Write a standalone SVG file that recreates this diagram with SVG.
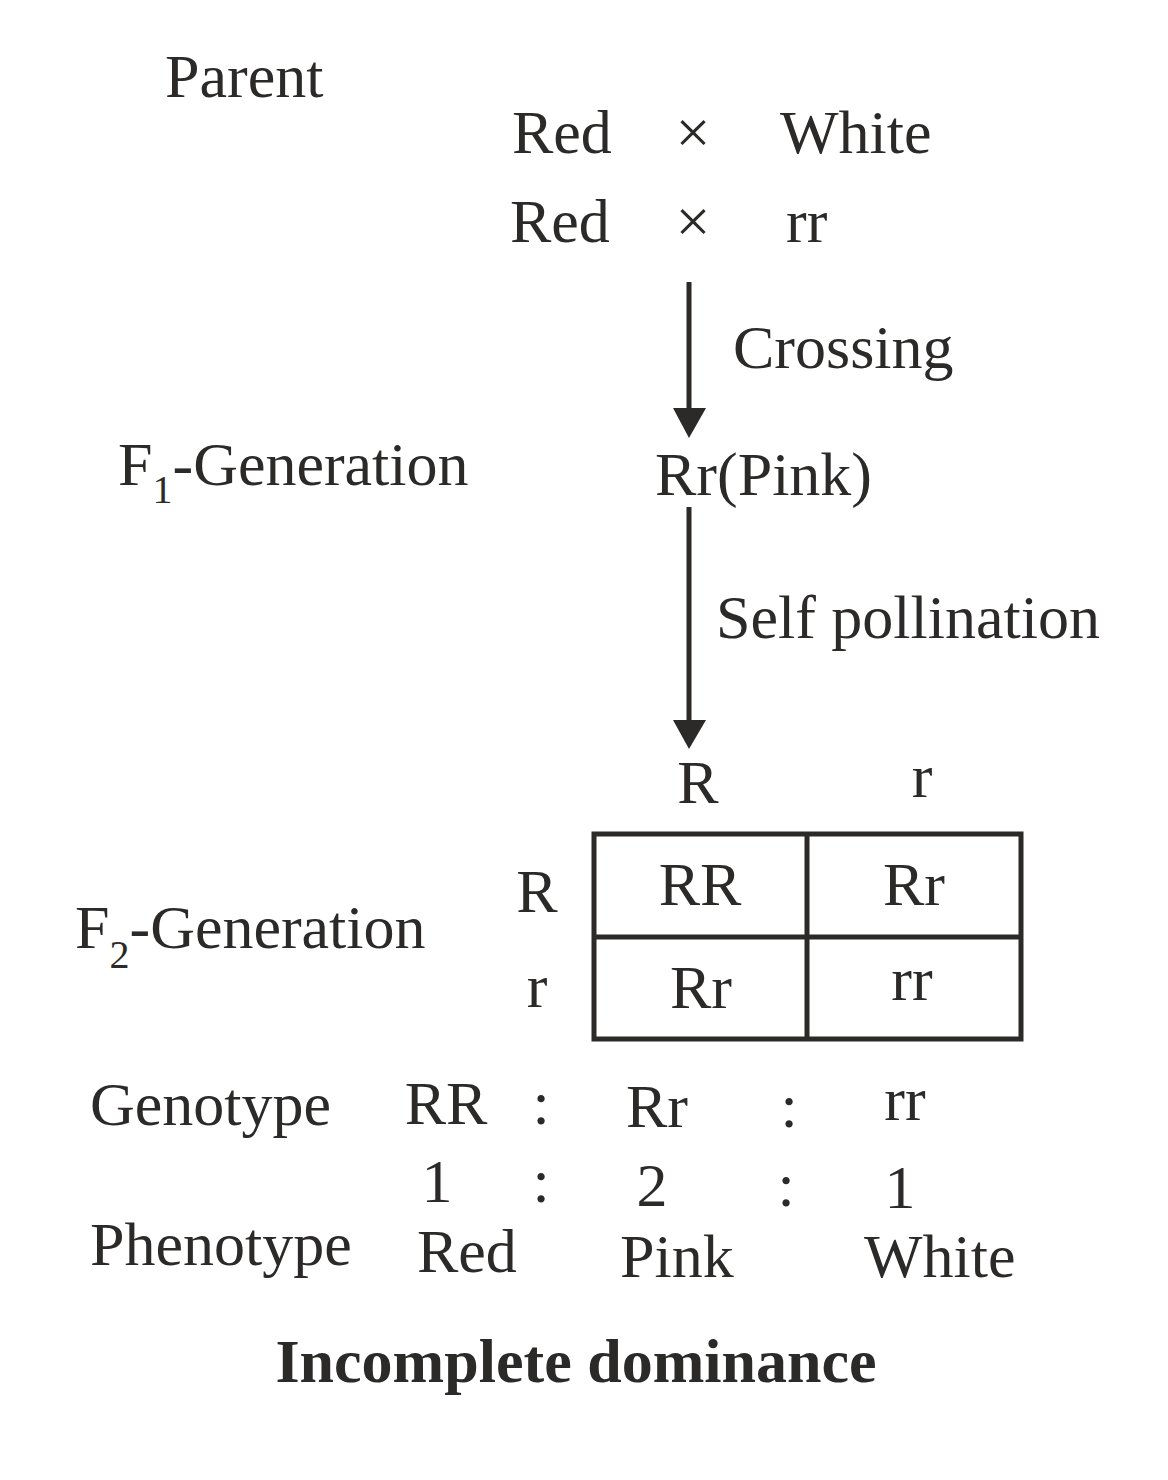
<svg xmlns="http://www.w3.org/2000/svg" width="1168" height="1480" viewBox="0 0 1168 1480">
<style>
text{font-family:"Liberation Serif","Times New Roman",serif;font-size:62px;fill:#2b2a29}
.c{text-anchor:middle}
.sub{font-size:40px}
.b{font-weight:bold}
.ln{stroke:#2b2a29;stroke-width:5;fill:none}
.hd{fill:#2b2a29}
</style>
<rect width="1168" height="1480" fill="#fff"/>
<g id="parent-label"><text x="165" y="97">Parent</text></g>
<g id="parents-phenotype"><text x="512" y="153">Red</text><text class="c" x="693" y="153">×</text><text x="780" y="153">White</text></g>
<g id="parents-genotype"><text x="510" y="242">Red</text><text class="c" x="693" y="242">×</text><text x="786" y="242">rr</text></g>
<g id="f1-label"><text x="118" y="485">F<tspan class="sub" dy="18">1</tspan><tspan dy="-18">-Generation</tspan></text></g>
<g id="f1"><text x="655" y="495">Rr(Pink)</text></g>
<g id="connectors">
<line class="ln" x1="689" y1="282" x2="689" y2="412"/>
<polygon class="hd" points="673,408 706,408 689,438"/>
<text x="733" y="368">Crossing</text>
<line class="ln" x1="689" y1="507" x2="689" y2="724"/>
<polygon class="hd" points="673,720 706,720 689,749"/>
<text x="716" y="638">Self pollination</text>
</g>
<g id="f2-label"><text x="75" y="948">F<tspan class="sub" dy="20">2</tspan><tspan dy="-20">-Generation</tspan></text></g>
<g id="punnett">
<text class="c" x="698" y="803">R</text>
<text class="c" x="922" y="797">r</text>
<text class="c" x="537" y="912">R</text>
<text class="c" x="537" y="1007">r</text>
<rect class="ln" x="594" y="834" width="427" height="205"/>
<line class="ln" x1="807" y1="834" x2="807" y2="1039"/>
<line class="ln" x1="594" y1="937" x2="1021" y2="937"/>
<text class="c" x="700" y="905">RR</text>
<text class="c" x="914" y="905">Rr</text>
<text class="c" x="701" y="1008">Rr</text>
<text class="c" x="912" y="1000">rr</text>
</g>
<g id="genotype">
<text x="90" y="1125">Genotype</text>
<text class="c" x="446" y="1124">RR</text>
<text class="c" x="541" y="1124">:</text>
<text class="c" x="657" y="1127">Rr</text>
<text class="c" x="789" y="1127">:</text>
<text class="c" x="905" y="1120">rr</text>
<text class="c" x="437" y="1202">1</text>
<text class="c" x="541" y="1202">:</text>
<text class="c" x="652" y="1206">2</text>
<text class="c" x="786" y="1206">:</text>
<text class="c" x="900" y="1208">1</text>
</g>
<g id="phenotype">
<text x="90" y="1265">Phenotype</text>
<text x="417" y="1272">Red</text>
<text x="620" y="1277">Pink</text>
<text x="864" y="1277">White</text>
</g>
<g id="title"><text class="c b" x="576" y="1382">Incomplete dominance</text></g>
</svg>
